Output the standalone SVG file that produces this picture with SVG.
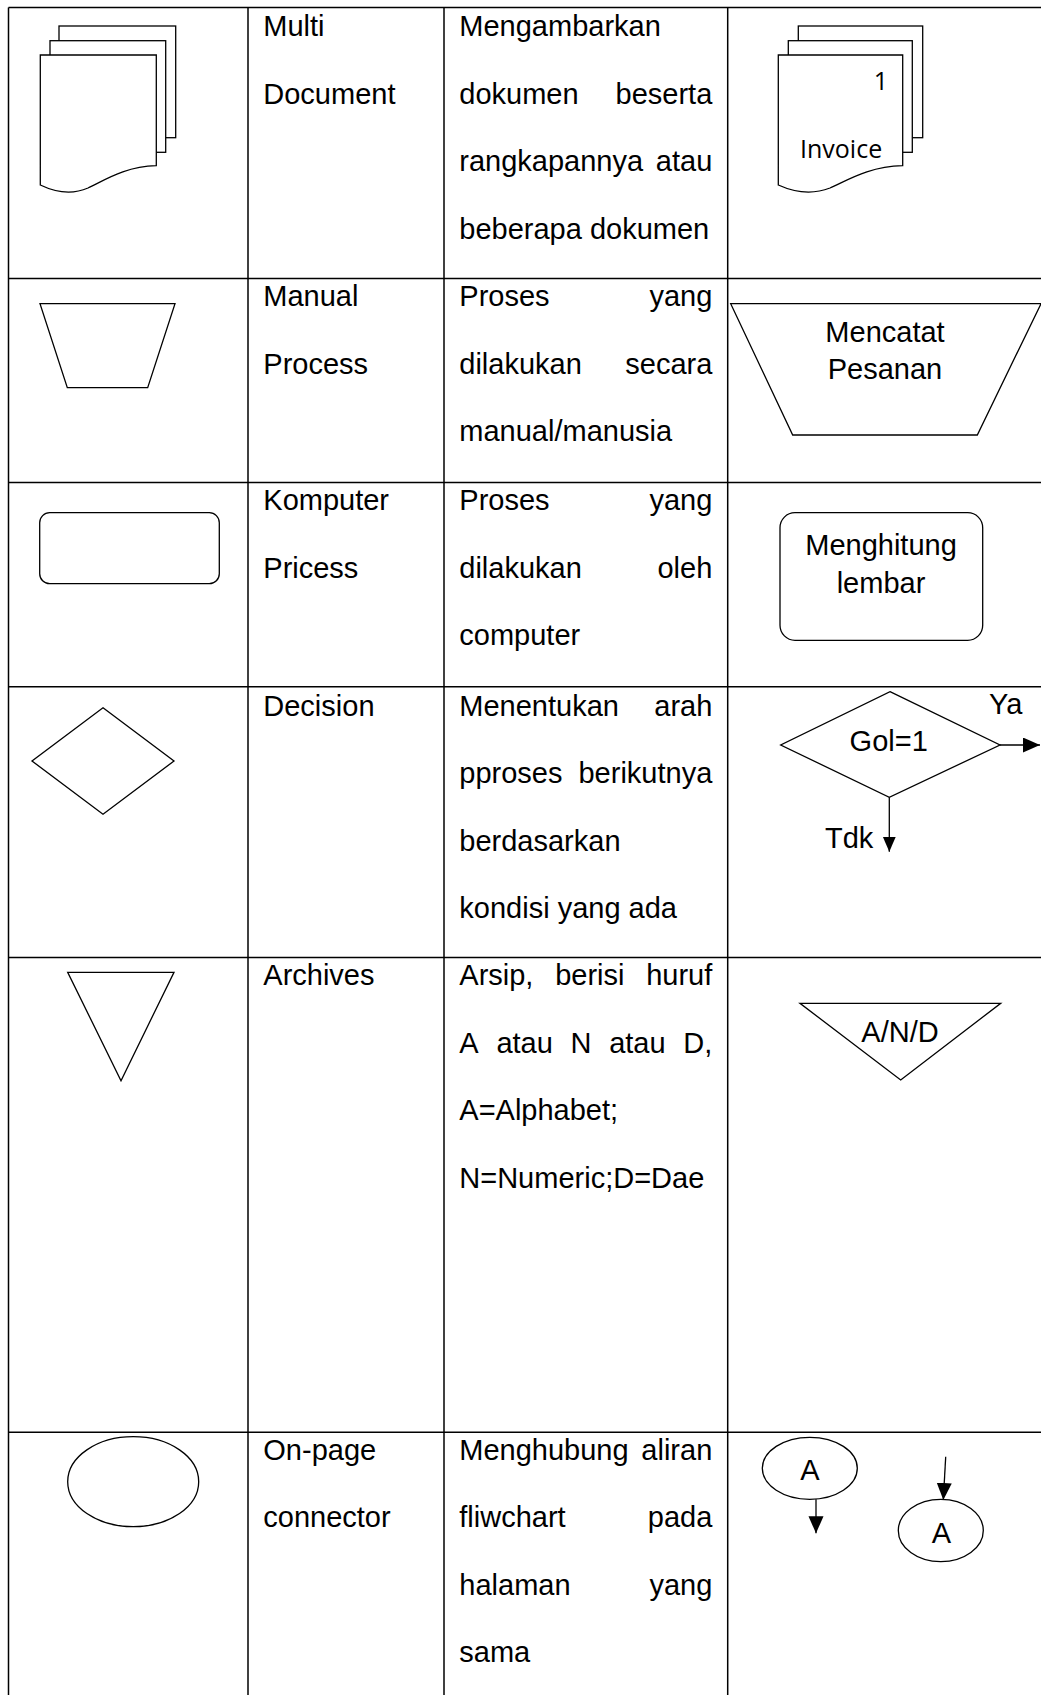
<svg xmlns="http://www.w3.org/2000/svg" width="1041" height="1695" viewBox="0 0 1041 1695">
<style>
.grid{stroke:#000;stroke-width:1.5;fill:none}
.shp{stroke:#000;stroke-width:1.3;fill:#fff}
.t{font-family:"Liberation Sans",Arial,sans-serif;font-size:29px;fill:#000}
.c{text-anchor:middle}
.e{text-anchor:end}
.cal{font-family:"Open Sans","Noto Sans",sans-serif;font-size:25px;fill:#000}
.ln{stroke:#000;stroke-width:1.3;fill:none}
</style>
<defs>
<marker id="ah" markerUnits="userSpaceOnUse" markerWidth="18" markerHeight="16" refX="17" refY="7.5" orient="auto">
<path d="M0,0 L17,7.5 L0,15 Z" fill="#000"/>
</marker>
<marker id="ah2" markerUnits="userSpaceOnUse" markerWidth="16" markerHeight="14" refX="15" refY="6.5" orient="auto">
<path d="M0,0 L15,6.5 L0,13 Z" fill="#000"/>
</marker>
</defs>
<rect width="1041" height="1695" fill="#fff"/>
<g id="table" class="grid">
<line x1="8.5" y1="7.5" x2="1041" y2="7.5"/>
<line x1="8.5" y1="278.5" x2="1041" y2="278.5"/>
<line x1="8.5" y1="482.5" x2="1041" y2="482.5"/>
<line x1="8.5" y1="686.7" x2="1041" y2="686.7"/>
<line x1="8.5" y1="957.5" x2="1041" y2="957.5"/>
<line x1="8.5" y1="1432.3" x2="1041" y2="1432.3"/>
<line x1="8.5" y1="7.5" x2="8.5" y2="1695"/>
<line x1="248" y1="7.5" x2="248" y2="1695"/>
<line x1="444" y1="7.5" x2="444" y2="1695"/>
<line x1="727.7" y1="7.5" x2="727.7" y2="1695"/>
</g>
<g id="row-text" class="t">
<text x="263.3" y="36">Multi</text>
<text x="263.3" y="103.5">Document</text>
<text x="459.3" y="36">Mengambarkan</text>
<text x="459.3" y="103.5">dokumen</text><text class="t e" x="712.3" y="103.5">beserta</text>
<text x="459.3" y="171">rangkapannya</text><text class="t e" x="712.3" y="171">atau</text>
<text x="459.3" y="238.5">beberapa dokumen</text>

<text x="263.3" y="306">Manual</text>
<text x="263.3" y="373.5">Process</text>
<text x="459.3" y="306">Proses</text><text class="t e" x="712.3" y="306">yang</text>
<text x="459.3" y="373.5">dilakukan</text><text class="t e" x="712.3" y="373.5">secara</text>
<text x="459.3" y="441">manual/manusia</text>

<text x="263.3" y="510">Komputer</text>
<text x="263.3" y="577.5">Pricess</text>
<text x="459.3" y="510">Proses</text><text class="t e" x="712.3" y="510">yang</text>
<text x="459.3" y="577.5">dilakukan</text><text class="t e" x="712.3" y="577.5">oleh</text>
<text x="459.3" y="645">computer</text>

<text x="263.3" y="715.5">Decision</text>
<text x="459.3" y="715.5">Menentukan</text><text class="t e" x="712.3" y="715.5">arah</text>
<text x="459.3" y="783">pproses</text><text class="t e" x="712.3" y="783">berikutnya</text>
<text x="459.3" y="850.5">berdasarkan</text>
<text x="459.3" y="918">kondisi yang ada</text>

<text x="263.3" y="985">Archives</text>
<text x="459.3" y="985">Arsip,</text><text x="555.2" y="985">berisi</text><text class="t e" x="712.3" y="985">huruf</text>
<text x="459.3" y="1052.5">A</text><text x="496.4" y="1052.5">atau</text><text x="570.5" y="1052.5">N</text><text x="609.2" y="1052.5">atau</text><text class="t e" x="712.3" y="1052.5">D,</text>
<text x="459.3" y="1120">A=Alphabet;</text>
<text x="459.3" y="1187.5">N=Numeric;D=Dae</text>

<text x="263.3" y="1459.5">On-page</text>
<text x="263.3" y="1527">connector</text>
<text x="459.3" y="1459.5">Menghubung</text><text class="t e" x="712.3" y="1459.5">aliran</text>
<text x="459.3" y="1527">fliwchart</text><text class="t e" x="712.3" y="1527">pada</text>
<text x="459.3" y="1594.5">halaman</text><text class="t e" x="712.3" y="1594.5">yang</text>
<text x="459.3" y="1662">sama</text>
</g>
<g id="sym-multidoc">
<rect class="shp" x="59" y="26" width="116.7" height="111.7"/>
<rect class="shp" x="50" y="40.7" width="115.7" height="111.6"/>
<path class="shp" d="M40.3,55 H156.3 V165.7 C125,166.5 105,180 88,188 C72,195 57,193 40.3,185 Z"/>
</g>
<g id="ex-invoice">
<rect class="shp" x="798.3" y="26" width="124.4" height="111.7"/>
<rect class="shp" x="788.3" y="40.7" width="124" height="111.6"/>
<path class="shp" d="M778.3,55 H902.7 V165.7 C869,166.5 848,180 830,188 C812,195 796,193 778.3,185 Z"/>
<text class="cal" x="881" y="90" text-anchor="middle">1</text>
<text class="cal" x="800" y="158.3">Invoice</text>
</g>
<g id="sym-manual">
<polygon class="shp" points="40,303.7 175,303.7 147.7,387.7 67.3,387.7"/>
</g>
<g id="ex-manual">
<polygon class="shp" points="730.7,303.7 1041,303.7 977.3,435 792.7,435"/>
<text class="t c" x="885" y="341.7">Mencatat</text>
<text class="t c" x="885" y="379.3">Pesanan</text>
</g>
<g id="sym-computer">
<rect class="shp" x="39.7" y="512.7" width="179.6" height="71" rx="10"/>
</g>
<g id="ex-computer">
<rect class="shp" x="780" y="512.7" width="202.7" height="127.6" rx="15"/>
<text class="t c" x="881" y="555">Menghitung</text>
<text class="t c" x="881" y="593.3">lembar</text>
</g>
<g id="sym-decision">
<polygon class="shp" points="103,707.7 174,761 103,814.3 32,761"/>
</g>
<g id="ex-decision">
<polygon class="shp" points="890,691.7 1000,745 889.3,797.3 780.7,745"/>
<text class="t c" x="888.7" y="751">Gol=1</text>
<text class="t" x="989" y="714.3">Ya</text>
<text class="t" x="825" y="848.3">Tdk</text>
</g>
<g id="sym-archive">
<polygon class="shp" points="67.7,972.3 174,972.3 121,1080.7"/>
</g>
<g id="ex-archive">
<polygon class="shp" points="800,1003.3 1000.7,1003.3 900.7,1080"/>
<text class="t c" x="900" y="1041.7">A/N/D</text>
</g>
<g id="sym-connector">
<ellipse class="shp" cx="133.2" cy="1481.7" rx="65.5" ry="45"/>
</g>
<g id="ex-connector-out">
<ellipse class="shp" cx="809.8" cy="1468.3" rx="47.5" ry="31"/>
<text class="t c" x="810" y="1480">A</text>
</g>
<g id="ex-connector-in">
<ellipse class="shp" cx="940.8" cy="1530.5" rx="42.5" ry="31.2"/>
<text class="t c" x="941.5" y="1542.7">A</text>
</g>
<g id="connectors">
<line class="ln" x1="1000" y1="745" x2="1040" y2="745" marker-end="url(#ah)"/>
<line class="ln" x1="889.3" y1="797.3" x2="889.3" y2="851.7" marker-end="url(#ah2)"/>
<line class="ln" x1="816" y1="1499.3" x2="816" y2="1533.3" marker-end="url(#ah)"/>
<line class="ln" x1="945.7" y1="1456.7" x2="943.3" y2="1500" marker-end="url(#ah)"/>
</g>
</svg>
